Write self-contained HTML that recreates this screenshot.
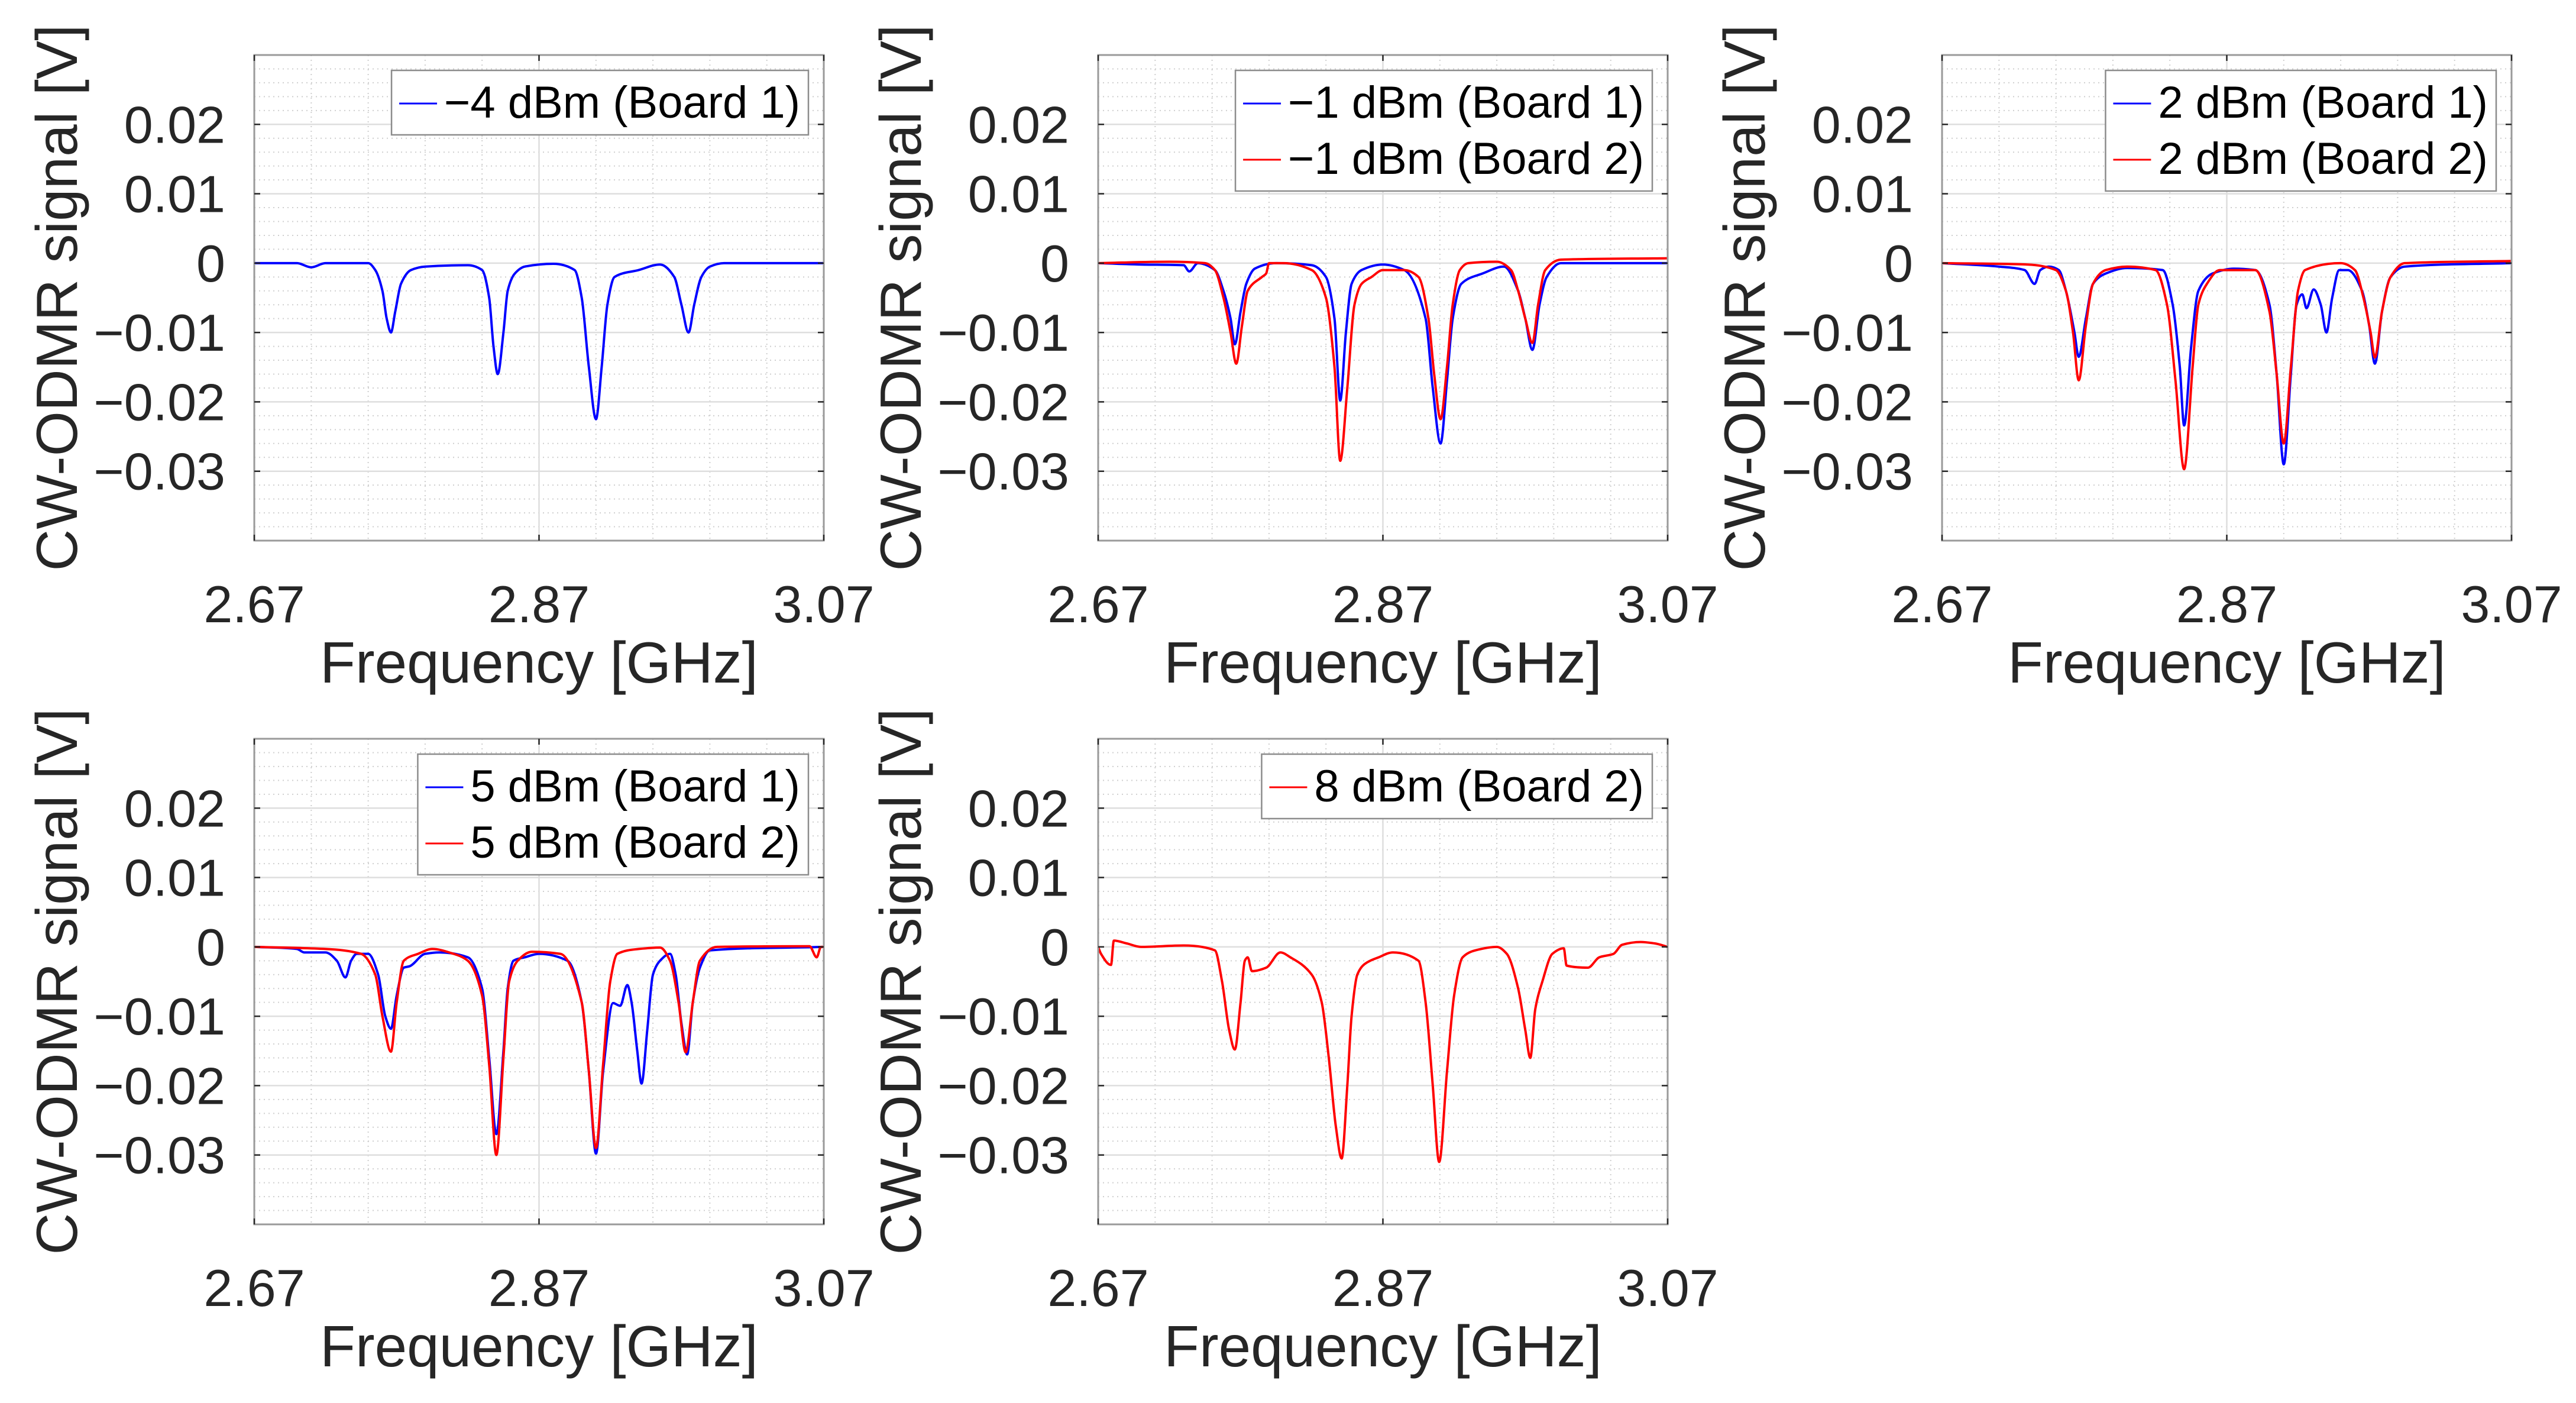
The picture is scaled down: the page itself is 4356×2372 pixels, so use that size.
<!DOCTYPE html>
<html><head><meta charset="utf-8">
<style>
html,body{margin:0;padding:0;background:#fff;}
svg{display:block;font-family:"Liberation Sans",sans-serif;}
</style></head>
<body>
<svg id="fig" width="4356" height="2372" viewBox="0 0 4356 2372" xmlns="http://www.w3.org/2000/svg">
<rect x="0" y="0" width="4356" height="2372" fill="#fff"/>
</svg>
<script>
// ---- data (frequency GHz, signal V) ----
const xTicks = [2.67, 2.87, 3.07];
const xTickLabels = ["2.67", "2.87", "3.07"];
const yTicks = [0.02, 0.01, 0, -0.01, -0.02, -0.03];
const yTickLabels = ["0.02", "0.01", "0", "\u22120.01", "\u22120.02", "\u22120.03"];

const p1Board1 = [[2.67,0],[2.70,0],[2.71,-0.0006],[2.72,0],[2.75,0],[2.755,-0.001],[2.76,-0.004],[2.763,-0.008],[2.766,-0.010],[2.769,-0.007],[2.773,-0.003],[2.78,-0.001],[2.79,-0.0005],[2.82,-0.0003],[2.83,-0.001],[2.835,-0.005],[2.838,-0.012],[2.841,-0.016],[2.845,-0.010],[2.848,-0.004],[2.853,-0.0015],[2.86,-0.0005],[2.88,-0.0001],[2.895,-0.001],[2.90,-0.005],[2.905,-0.015],[2.910,-0.0225],[2.914,-0.015],[2.918,-0.006],[2.923,-0.002],[2.94,-0.001],[2.955,-0.0002],[2.965,-0.002],[2.970,-0.006],[2.975,-0.010],[2.979,-0.006],[2.984,-0.002],[2.99,-0.0005],[3.0,0],[3.07,0]];

const p2Board1 = [[2.67,0],[2.70,-0.0002],[2.73,-0.0003],[2.734,-0.0012],[2.74,0],[2.752,-0.001],[2.758,-0.004],[2.763,-0.008],[2.766,-0.0117],[2.770,-0.007],[2.774,-0.003],[2.78,-0.0008],[2.795,0],[2.82,-0.0003],[2.83,-0.002],[2.836,-0.008],[2.840,-0.0198],[2.844,-0.010],[2.848,-0.003],[2.855,-0.001],[2.87,-0.0002],[2.885,-0.001],[2.90,-0.008],[2.905,-0.018],[2.9105,-0.026],[2.915,-0.017],[2.919,-0.008],[2.925,-0.003],[2.94,-0.0015],[2.955,-0.0005],[2.965,-0.004],[2.970,-0.008],[2.975,-0.0125],[2.98,-0.006],[2.985,-0.002],[2.995,0],[3.07,0]];
const p2Board2 = [[2.67,0],[2.72,0.0002],[2.745,0],[2.752,-0.001],[2.758,-0.005],[2.763,-0.010],[2.767,-0.0145],[2.771,-0.009],[2.775,-0.004],[2.785,-0.002],[2.788,-0.0015],[2.790,0],[2.80,0],[2.82,-0.001],[2.83,-0.005],[2.836,-0.015],[2.840,-0.0285],[2.845,-0.018],[2.850,-0.006],[2.855,-0.003],[2.862,-0.002],[2.87,-0.001],[2.885,-0.001],[2.895,-0.002],[2.902,-0.008],[2.906,-0.016],[2.9105,-0.0225],[2.915,-0.015],[2.919,-0.006],[2.924,-0.001],[2.93,0],[2.95,0.0002],[2.96,-0.001],[2.965,-0.004],[2.970,-0.008],[2.975,-0.0115],[2.979,-0.006],[2.984,-0.001],[2.995,0.0005],[3.07,0.0007]];

const p3Board1 = [[2.67,0],[2.71,-0.0005],[2.728,-0.001],[2.735,-0.003],[2.739,-0.001],[2.745,-0.0005],[2.752,-0.001],[2.757,-0.004],[2.763,-0.010],[2.766,-0.0135],[2.771,-0.008],[2.776,-0.003],[2.785,-0.0015],[2.80,-0.0007],[2.825,-0.001],[2.832,-0.006],[2.837,-0.015],[2.840,-0.0234],[2.845,-0.012],[2.850,-0.004],[2.86,-0.0015],[2.875,-0.0008],[2.89,-0.001],[2.90,-0.006],[2.905,-0.016],[2.910,-0.029],[2.915,-0.016],[2.919,-0.006],[2.923,-0.0045],[2.926,-0.0065],[2.931,-0.0038],[2.936,-0.006],[2.940,-0.010],[2.944,-0.005],[2.949,-0.001],[2.955,-0.001],[2.965,-0.004],[2.970,-0.009],[2.974,-0.0145],[2.979,-0.007],[2.985,-0.002],[2.995,-0.0005],[3.07,0]];
const p3Board2 = [[2.67,0],[2.73,-0.0002],[2.75,-0.001],[2.757,-0.004],[2.762,-0.010],[2.766,-0.0169],[2.771,-0.009],[2.776,-0.003],[2.785,-0.001],[2.80,-0.0005],[2.82,-0.001],[2.828,-0.006],[2.834,-0.017],[2.840,-0.0297],[2.846,-0.015],[2.850,-0.006],[2.856,-0.003],[2.865,-0.001],[2.89,-0.001],[2.90,-0.007],[2.905,-0.016],[2.910,-0.026],[2.915,-0.015],[2.920,-0.004],[2.925,-0.001],[2.95,0],[2.96,-0.001],[2.966,-0.005],[2.971,-0.010],[2.974,-0.0136],[2.979,-0.007],[2.985,-0.002],[2.995,0],[3.07,0.0003]];

const p4Board1 = [[2.67,0],[2.70,-0.0003],[2.705,-0.0008],[2.72,-0.0008],[2.728,-0.002],[2.734,-0.0044],[2.738,-0.002],[2.742,-0.001],[2.75,-0.001],[2.757,-0.004],[2.762,-0.010],[2.766,-0.0118],[2.770,-0.007],[2.775,-0.003],[2.779,-0.0028],[2.79,-0.001],[2.80,-0.0008],[2.82,-0.0015],[2.83,-0.006],[2.835,-0.016],[2.840,-0.027],[2.845,-0.015],[2.848,-0.006],[2.852,-0.002],[2.86,-0.0015],[2.87,-0.001],[2.89,-0.002],[2.90,-0.008],[2.905,-0.018],[2.910,-0.0298],[2.915,-0.018],[2.922,-0.0081],[2.927,-0.0085],[2.932,-0.0055],[2.935,-0.008],[2.939,-0.015],[2.942,-0.0197],[2.946,-0.012],[2.950,-0.004],[2.955,-0.002],[2.962,-0.001],[2.966,-0.004],[2.970,-0.011],[2.974,-0.0155],[2.978,-0.008],[2.983,-0.003],[2.99,-0.0005],[3.07,0]];
const p4Board2 = [[2.67,0],[2.72,-0.0003],[2.745,-0.001],[2.755,-0.004],[2.760,-0.010],[2.766,-0.0151],[2.770,-0.008],[2.775,-0.002],[2.785,-0.001],[2.795,-0.0003],[2.81,-0.001],[2.82,-0.002],[2.83,-0.007],[2.835,-0.017],[2.840,-0.030],[2.845,-0.016],[2.849,-0.005],[2.855,-0.002],[2.865,-0.0007],[2.885,-0.001],[2.90,-0.008],[2.905,-0.018],[2.910,-0.029],[2.915,-0.017],[2.920,-0.005],[2.925,-0.001],[2.94,-0.0003],[2.955,-0.0001],[2.962,-0.002],[2.968,-0.008],[2.973,-0.0152],[2.978,-0.008],[2.983,-0.002],[2.995,0],[3.06,0.0001],[3.065,-0.0015],[3.068,0],[3.07,0]];

const p5Board2 = [[2.67,0],[2.672,-0.001],[2.679,-0.0026],[2.681,0.0009],[2.69,0.0005],[2.70,0],[2.73,0.0002],[2.752,-0.0005],[2.757,-0.005],[2.762,-0.012],[2.766,-0.0148],[2.770,-0.008],[2.773,-0.002],[2.775,-0.0015],[2.778,-0.0035],[2.788,-0.003],[2.798,-0.0008],[2.805,-0.0015],[2.82,-0.004],[2.827,-0.008],[2.832,-0.016],[2.837,-0.026],[2.841,-0.0305],[2.845,-0.020],[2.848,-0.010],[2.852,-0.004],[2.857,-0.0025],[2.867,-0.0015],[2.877,-0.0008],[2.895,-0.002],[2.90,-0.008],[2.905,-0.020],[2.9095,-0.031],[2.915,-0.018],[2.920,-0.007],[2.926,-0.0015],[2.935,-0.0005],[2.95,0],[2.957,-0.001],[2.965,-0.006],[2.970,-0.012],[2.9735,-0.016],[2.977,-0.009],[2.982,-0.005],[2.989,-0.001],[2.997,-0.0002],[2.999,-0.0027],[3.014,-0.003],[3.022,-0.0015],[3.032,-0.001],[3.038,0.0003],[3.051,0.0007],[3.061,0.0005],[3.07,0]];

const panelNames = ["panel-minus4dbm","panel-minus1dbm","panel-2dbm","panel-5dbm","panel-8dbm"];
const legendLabels = [
  ["\u22124 dBm (Board 1)"],
  ["\u22121 dBm (Board 1)","\u22121 dBm (Board 2)"],
  ["2 dBm (Board 1)","2 dBm (Board 2)"],
  ["5 dBm (Board 1)","5 dBm (Board 2)"],
  ["8 dBm (Board 2)"]
];
const panelSeries = [[p1Board1],[p2Board1,p2Board2],[p3Board1,p3Board2],[p4Board1,p4Board2],[p5Board2]];
const panelColors = [["#0000ff"],["#0000ff","#ff0000"],["#0000ff","#ff0000"],["#0000ff","#ff0000"],["#ff0000"]];

// ---- layout ----
const NS = "http://www.w3.org/2000/svg";
const svg = document.getElementById("fig");
const origins = [[430,93],[1857,93],[3284,93],[430,1249],[1857,1249]];
const PW = 963, PH = 821;
const XMIN = 2.67, XMAX = 3.07, YMIN = -0.04, YMAX = 0.03;

function mk(tag, attrs, parent){
  const e = document.createElementNS(NS, tag);
  for (const k in attrs) e.setAttribute(k, attrs[k]);
  (parent||svg).appendChild(e);
  return e;
}

// monotone cubic path (Fritsch-Carlson) through screen points
function monoPath(P){
  const n = P.length;
  if (n < 2) return "";
  const dx = [], dy = [], m = [];
  for (let i = 0; i < n-1; i++){ dx.push(P[i+1][0]-P[i][0]); dy.push(P[i+1][1]-P[i][1]); m.push(dy[i]/dx[i]); }
  const t = [m[0]];
  for (let i = 1; i < n-1; i++){
    if (m[i-1]*m[i] <= 0) t.push(0);
    else { const w1 = 2*dx[i]+dx[i-1], w2 = dx[i]+2*dx[i-1]; t.push((w1+w2)/(w1/m[i-1]+w2/m[i])); }
  }
  t.push(m[n-2]);
  let d = "M" + P[0][0].toFixed(1) + "," + P[0][1].toFixed(1);
  for (let i = 0; i < n-1; i++){
    const h = dx[i]/3;
    d += " C" + (P[i][0]+h).toFixed(1) + "," + (P[i][1]+t[i]*h).toFixed(1) + " " +
         (P[i+1][0]-h).toFixed(1) + "," + (P[i+1][1]-t[i+1]*h).toFixed(1) + " " +
         P[i+1][0].toFixed(1) + "," + P[i+1][1].toFixed(1);
  }
  return d;
}

origins.forEach((o, pi) => {
  const [L, T] = o;
  const xs = v => L + (v - XMIN) / (XMAX - XMIN) * PW;
  const ys = v => T + (YMAX - v) / (YMAX - YMIN) * PH;
  const g = mk("g", {});
  
  

  const mg = mk("g", {stroke:"#cfcfcf","stroke-width":2,"stroke-dasharray":"2 6"}, g);
  
  
  for (let i = 1; i < 10; i++) {
    if (i % 5 === 0) continue;
    const x = xs(XMIN + i*0.04);
    mk("line", {x1:x, y1:T, x2:x, y2:T+PH}, mg);
  }
  for (let i = 1; i < 35; i++) {
    if (i % 5 === 0) continue;
    const y = ys(YMIN + i*0.002);
    mk("line", {x1:L, y1:y, x2:L+PW, y2:y}, mg);
  }
  const jg = mk("g", {stroke:"#dedede","stroke-width":2.5}, g);
  
  
  yTicks.forEach(v => { const y = ys(v); mk("line", {x1:L, y1:y, x2:L+PW, y2:y}, jg); });
  xTicks.forEach(v => { const x = xs(v); mk("line", {x1:x, y1:T, x2:x, y2:T+PH}, jg); });

  panelSeries[pi].forEach((s, si) => {
    const P = s.map(p => [xs(p[0]), ys(p[1])]);
    const pl = mk("path", {d:monoPath(P), fill:"none", stroke:panelColors[pi][si], "stroke-width":4, "stroke-linejoin":"round"}, g);
    
    
  });

  const box = mk("rect", {x:L, y:T, width:PW, height:PH, fill:"none", stroke:"#9a9a9a", "stroke-width":3}, g);
  
  
  const tk = mk("g", {stroke:"#262626","stroke-width":2.5}, g);
  yTicks.forEach(v => { const y = ys(v);
    mk("line", {x1:L, y1:y, x2:L+10, y2:y}, tk); mk("line", {x1:L+PW, y1:y, x2:L+PW-10, y2:y}, tk); });
  xTicks.forEach(v => { const x = xs(v);
    mk("line", {x1:x, y1:T+PH, x2:x, y2:T+PH-10}, tk); mk("line", {x1:x, y1:T, x2:x, y2:T+10}, tk); });

  yTicks.forEach((v, i) => {
    const t = mk("text", {x:L-49, y:ys(v)+31, "text-anchor":"end", "font-size":88, fill:"#262626"}, g);
    t.textContent = yTickLabels[i];
    
    
  });
  xTicks.forEach((v, i) => {
    const t = mk("text", {x:xs(v), y:T+PH+138, "text-anchor":"middle", "font-size":88, fill:"#262626"}, g);
    t.textContent = xTickLabels[i];
    
    
  });
  const xl = mk("text", {x:L+PW/2, y:T+PH+240, "text-anchor":"middle", "font-size":98, fill:"#262626"}, g);
  xl.textContent = "Frequency [GHz]";
  
  
  const yl = mk("text", {x:0, y:0, "text-anchor":"middle", "font-size":98, fill:"#262626",
    transform:"translate(" + (L-300) + "," + (T+PH/2) + ") rotate(-90)"}, g);
  yl.textContent = "CW-ODMR signal [V]";
  
  

  const labs = legendLabels[pi];
  const lg = mk("g", {}, g);
  
  
  const lbox = mk("rect", {x:0, y:T+26, width:10, height:14 + labs.length*95, fill:"#fff", stroke:"#8c8c8c", "stroke-width":2.5}, lg);
  let maxW = 0;
  const texts = [];
  labs.forEach((lab, li) => {
    const t = mk("text", {x:0, y:T+26+80+li*95, "font-size":76, fill:"#000"}, lg);
    t.textContent = lab;
    
    
    texts.push(t);
    maxW = Math.max(maxW, t.getComputedTextLength());
  });
  const bw = 89 + maxW + 14;
  const bx = L + PW - 26 - bw;
  lbox.setAttribute("x", bx); lbox.setAttribute("width", bw);
  texts.forEach((t, li) => {
    t.setAttribute("x", bx + 89);
    const yy = T + 26 + 56 + li*95;
    const sw = mk("line", {x1:bx+13, y1:yy, x2:bx+77, y2:yy, stroke:panelColors[pi][li], "stroke-width":3}, lg);
    
    
  });
});
</script>
</body></html>
